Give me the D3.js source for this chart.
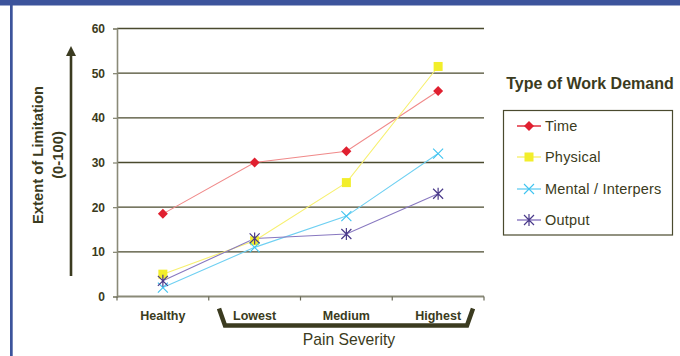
<!DOCTYPE html>
<html>
<head>
<meta charset="utf-8">
<script src="https://cdn.jsdelivr.net/npm/d3@7/dist/d3.min.js"></script>
<style>
  html, body { margin: 0; padding: 0; background: #fff; }
  svg { display: block; font-family: Arial, "Liberation Sans", sans-serif; }
</style>
</head>
<body>
<svg id="chart" width="680" height="356"></svg>
<script>
// Work limitation by pain severity
const categories = ["Healthy", "Lowest", "Medium", "Highest"];
const seriesNames = ["Time", "Physical", "Mental / Interpers", "Output"];
const timeValues = [18.5, 30, 32.5, 46];
const physicalValues = [5, 12.5, 25.5, 51.5];
const mentalValues = [2, 11, 18, 32];
const outputValues = [3.5, 13, 14, 23];
const yTicks = [0, 10, 20, 30, 40, 50, 60];

const seriesValues = [timeValues, physicalValues, mentalValues, outputValues];
const styles = [
  { line: "#f08a8a", mark: "#e02030", symbol: "diamond" },
  { line: "#f7f070", mark: "#f2ee2a", symbol: "square" },
  { line: "#6fd0f2", mark: "#40c4f0", symbol: "x" },
  { line: "#8878c0", mark: "#4a3a8a", symbol: "star" }
];

const ink = "#3b3b20";
const svg = d3.select("#chart");

// frame decorations
svg.append("rect").attr("x", 0).attr("y", 0).attr("width", 680).attr("height", 5.5).attr("fill", "#3c549c");
svg.append("rect").attr("x", 10).attr("y", 0).attr("width", 2.7).attr("height", 356).attr("fill", "#3c549c");

const plot = { left: 117, right: 484, top: 28.5, bottom: 296.5 };
const x = d3.scaleBand().domain(categories).range([plot.left, plot.right]).padding(0);
const y = d3.scaleLinear().domain([0, 60]).range([plot.bottom, plot.top]);

// horizontal gridlines
svg.append("g").selectAll("line").data(yTicks.filter(d => d > 0)).join("line")
  .attr("x1", plot.left).attr("x2", plot.right)
  .attr("y1", d => y(d)).attr("y2", d => y(d))
  .attr("stroke", "#4a4a2e").attr("stroke-width", 1.3);

// y axis
const yAxis = svg.append("g").attr("transform", `translate(${plot.left},0)`)
  .call(d3.axisLeft(y).tickValues(yTicks).tickSize(4).tickPadding(8));
yAxis.select(".domain").attr("stroke", "#8a8a78").attr("stroke-width", 1.6);
yAxis.selectAll(".tick line").attr("stroke", "#8a8a78").attr("stroke-width", 1.3);
yAxis.selectAll(".tick text").attr("fill", ink).attr("font-size", 12).attr("font-weight", "bold")
  .attr("font-family", "Arial, 'Liberation Sans', sans-serif");

// x axis with boundary ticks
const xAxisG = svg.append("g").attr("transform", `translate(0,${plot.bottom})`);
xAxisG.append("line").attr("x1", plot.left).attr("x2", plot.right).attr("y1", 0).attr("y2", 0)
  .attr("stroke", "#8a8a78").attr("stroke-width", 1.8);
const bounds = categories.map(c => x(c)).concat([plot.right]);
xAxisG.selectAll("line.tk").data(bounds).join("line").attr("class", "tk")
  .attr("x1", d => d).attr("x2", d => d).attr("y1", 0).attr("y2", 4)
  .attr("stroke", "#6a6a58").attr("stroke-width", 1.2);
xAxisG.selectAll("text").data(categories).join("text")
  .attr("x", d => x(d) + x.bandwidth() / 2).attr("y", 23)
  .attr("text-anchor", "middle").attr("fill", ink)
  .attr("font-size", 12.5).attr("font-weight", "bold").text(d => d);

// bracket grouping the pain levels
svg.append("path")
  .attr("d", "M219,308.5 L225,325.5 L467,325.5 L473,308.5")
  .attr("fill", "none").attr("stroke", ink).attr("stroke-width", 4.5).attr("stroke-linejoin", "miter");

svg.append("text").attr("x", 349).attr("y", 344.5).attr("text-anchor", "middle")
  .attr("fill", ink).attr("font-size", 15.7).text("Pain Severity");

// y axis title and arrow
const yt = svg.append("text").attr("transform", "translate(43,155) rotate(-90)")
  .attr("text-anchor", "middle").attr("fill", ink).attr("font-size", 14.8).attr("font-weight", "bold");
yt.append("tspan").attr("x", 0).attr("y", 0).text("Extent of Limitation");
yt.append("tspan").attr("x", 0).attr("y", 20).text("(0-100)");

svg.append("line").attr("x1", 71).attr("x2", 71).attr("y1", 54).attr("y2", 276)
  .attr("stroke", ink).attr("stroke-width", 2.6);
svg.append("path").attr("d", "M71,46 L76,56 L66,56 Z").attr("fill", ink);

// marker drawing
function drawMarker(g, type, color, size) {
  const s = size;
  if (type === "diamond") {
    g.append("path").attr("d", `M0,${-s} L${s},0 L0,${s} L${-s},0 Z`).attr("fill", color);
  } else if (type === "square") {
    g.append("rect").attr("x", -s).attr("y", -s).attr("width", 2 * s).attr("height", 2 * s).attr("fill", color);
  } else if (type === "x") {
    g.append("path").attr("d", `M${-s},${-s} L${s},${s} M${-s},${s} L${s},${-s}`)
      .attr("stroke", color).attr("stroke-width", 1.1).attr("fill", "none");
  } else if (type === "star") {
    g.append("path").attr("d", `M${-s},${-s} L${s},${s} M${-s},${s} L${s},${-s} M0,${-s * 1.2} L0,${s * 1.2}`)
      .attr("stroke", color).attr("stroke-width", 1.2).attr("fill", "none");
  }
}
const markerSize = [5, 4.5, 5, 5];

// series lines and markers
const line = d3.line().x((d, i) => x(categories[i]) + x.bandwidth() / 2).y(d => y(d));
seriesValues.forEach((vals, si) => {
  svg.append("path").datum(vals).attr("d", line)
    .attr("fill", "none").attr("stroke", styles[si].line).attr("stroke-width", 1.1);
});
seriesValues.forEach((vals, si) => {
  vals.forEach((v, i) => {
    const g = svg.append("g").attr("transform", `translate(${x(categories[i]) + x.bandwidth() / 2},${y(v)})`);
    drawMarker(g, styles[si].symbol, styles[si].mark, markerSize[si]);
  });
});

// legend
svg.append("text").attr("x", 590).attr("y", 89).attr("text-anchor", "middle")
  .attr("fill", ink).attr("font-size", 16).attr("font-weight", "bold").text("Type of Work Demand");
svg.append("rect").attr("x", 503.5).attr("y", 110.5).attr("width", 169).attr("height", 124.5)
  .attr("fill", "#fff").attr("stroke", "#4a4a2e").attr("stroke-width", 1.2);
const legendY = [126, 157, 189, 220];
seriesNames.forEach((name, si) => {
  const ly = legendY[si];
  svg.append("line").attr("x1", 517).attr("x2", 541).attr("y1", ly).attr("y2", ly)
    .attr("stroke", si === 0 ? "#e02030" : styles[si].line).attr("stroke-width", 1.4);
  const g = svg.append("g").attr("transform", `translate(529,${ly})`);
  drawMarker(g, styles[si].symbol, styles[si].mark, markerSize[si]);
  svg.append("text").attr("x", 545).attr("y", ly + 5).attr("fill", ink)
    .attr("font-size", 14.5).attr("letter-spacing", 0.2).text(name);
});
</script>
</body>
</html>
